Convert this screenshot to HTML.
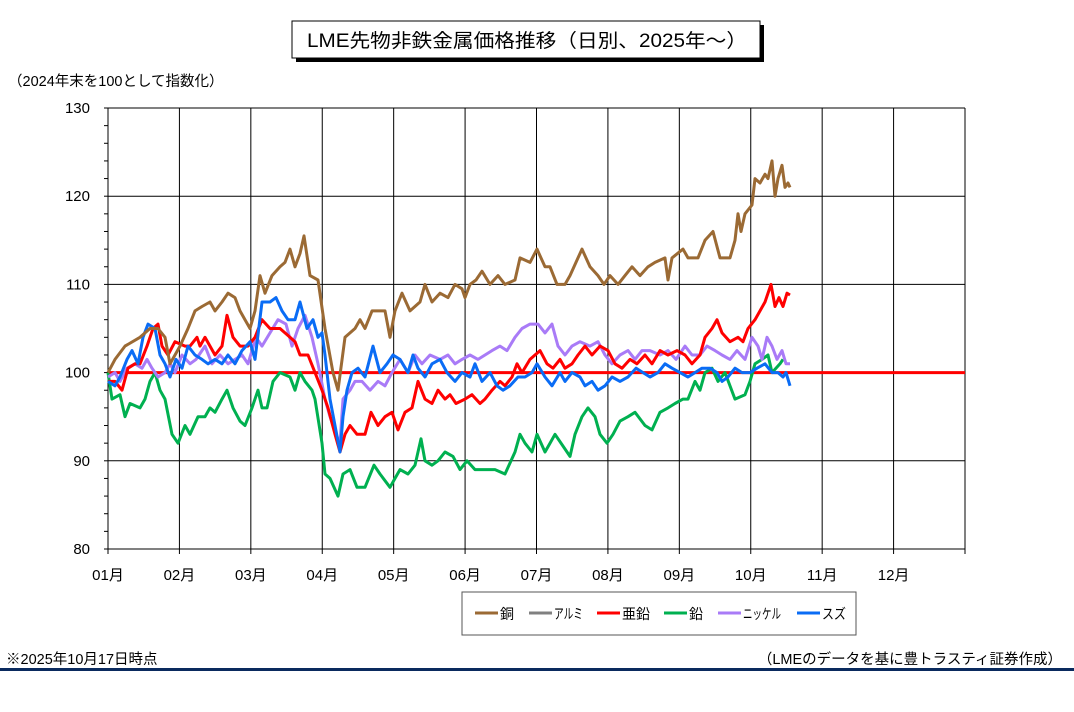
<!DOCTYPE html>
<html><head><meta charset="utf-8"><style>
body{margin:0;background:#fff;width:1074px;height:707px;overflow:hidden;font-family:"Liberation Sans","Noto Sans CJK JP",sans-serif;}
</style></head><body>
<svg id="s" width="1074" height="707" xmlns="http://www.w3.org/2000/svg" font-family="Liberation Sans, Noto Sans CJK JP, sans-serif">
<rect x="296" y="25" width="468" height="37" fill="#000"/>
<rect x="292" y="21" width="468" height="37" fill="#fff" stroke="#000" stroke-width="1"/>
<text x="307" y="47" font-size="19" fill="#000" textLength="440" lengthAdjust="spacingAndGlyphs">LME先物非鉄金属価格推移（日別、2025年～）</text>
<text x="8" y="86" font-size="14.5" fill="#000">（2024年末を100として指数化）</text>
<g id="grid" stroke="#000" stroke-width="1" fill="none"></g>
<g id="lbl" font-size="15" fill="#000"></g>
<line x1="108" y1="372.6" x2="965" y2="372.6" stroke="#ff0000" stroke-width="3"/>
<g id="series" fill="none" stroke-width="3" stroke-linejoin="round"></g>
<rect x="462" y="592" width="394" height="43" fill="#fff" stroke="#555" stroke-width="1"/>
<g font-size="14" fill="#000">
<line x1="475" y1="613" x2="498" y2="613" stroke="#9b6a34" stroke-width="3"/><text x="500" y="619" textLength="14" lengthAdjust="spacingAndGlyphs">銅</text>
<line x1="529" y1="613" x2="552" y2="613" stroke="#808080" stroke-width="3"/><text x="554" y="619" textLength="29" lengthAdjust="spacingAndGlyphs">アルミ</text>
<line x1="597" y1="613" x2="620" y2="613" stroke="#ff0000" stroke-width="3"/><text x="622" y="619" textLength="28" lengthAdjust="spacingAndGlyphs">亜鉛</text>
<line x1="664" y1="613" x2="687" y2="613" stroke="#00b050" stroke-width="3"/><text x="689" y="619" textLength="14" lengthAdjust="spacingAndGlyphs">鉛</text>
<line x1="718" y1="613" x2="741" y2="613" stroke="#a97bf7" stroke-width="3"/><text x="743" y="619" textLength="38" lengthAdjust="spacingAndGlyphs">ニッケル</text>
<line x1="797" y1="613" x2="820" y2="613" stroke="#0a6cf5" stroke-width="3"/><text x="822" y="619" textLength="24" lengthAdjust="spacingAndGlyphs">スズ</text>
</g>
<text x="6" y="664" font-size="14.5" fill="#000">※2025年10月17日時点</text>
<text x="1062" y="664" font-size="14.5" fill="#000" text-anchor="end">（LMEのデータを基に豊トラスティ証券作成）</text>
<rect x="0" y="668" width="1074" height="3" fill="#0a2a5e"/>
</svg>
<script>
var NS="http://www.w3.org/2000/svg";
function Y(v){return 372.6-(v-100)*8.82;}
function el(p,t,a,txt){var e=document.createElementNS(NS,t);for(var k in a)e.setAttribute(k,a[k]);if(txt!=null)e.textContent=txt;document.getElementById(p).appendChild(e);}
var x0=108,x1=965,dx=(x1-x0)/12;
for(var v=80;v<=130;v+=10){el('grid','line',{x1:x0,y1:Y(v),x2:x1,y2:Y(v),stroke:'#000'});el('lbl','text',{x:90,y:Y(v)+5,'text-anchor':'end'},String(v));}
for(var v=80;v<=130;v+=2){el('grid','line',{x1:x0-4,y1:Y(v),x2:x0,y2:Y(v)});}
for(var i=0;i<=12;i++){var x=x0+i*dx;el('grid','line',{x1:x,y1:Y(130),x2:x,y2:Y(80)});el('grid','line',{x1:x,y1:Y(80),x2:x,y2:Y(80)+5});
if(i<12)el('lbl','text',{x:x,y:580,'text-anchor':'middle'},(i<9?'0':'')+(i+1)+'月');}
function S(c,d){var p=[];for(var i=0;i<d.length;i+=2)p.push(d[i]+','+Y(d[i+1]).toFixed(1));el('series','polyline',{points:p.join(' '),stroke:c});}
S('#00b050',[108,100,112,97,120,97.5,125,95,130,96.5,140,96,145,97,150,99,155,100,160,98,165,97,172,93,178,92,185,94,190,93,198,95,205,95,210,96,215,95.5,222,97,227,98,233,96,240,94.5,245,94,252,96,258,98,262,96,267,96,273,99,280,100,290,99.5,295,98,300,100,305,99,312,98,315,97,322,92,325,88.5,330,88,338,86,343,88.5,350,89,357,87,365,87,374,89.5,380,88.5,390,87,395,88,400,89,408,88.5,415,89.5,421,92.5,425,90,432,89.5,438,90,445,91,453,90.5,460,89,467,90,475,89,485,89,495,89,505,88.5,515,91,520,93,525,92,532,91,537,93,545,91,550,92,555,93,570,90.5,575,93,582,95,588,96,595,95,600,93,607,92,613,93,620,94.5,628,95,635,95.5,645,94,652,93.5,660,95.5,668,96,675,96.5,683,97,688,97,695,99,700,98,705,100,712,100.5,718,99,725,100,735,97,745,97.5,750,99,755,101,762,101.5,768,102,772,100,780,101,783,101.5]);
S('#a97bf7',[108,99.5,115,100,120,99,127,100.5,135,101,142,100.5,147,101.5,152,100.5,158,99.5,165,100,170,101,175,100,182,102,190,101,196,101.5,205,103,212,101,220,102,228,101,235,101.5,242,102,248,101,256,104,262,103,270,104.5,278,106,286,105.5,292,103,298,105,305,106.5,312,104,318,101,325,97,330,95,336,93,340,92,343,97,350,98,355,99,362,99,370,98,378,99,385,98.5,392,100,400,101.5,408,100,415,102,422,101,430,102,440,101.5,448,102,455,101,462,101.5,470,102,478,101.5,485,102,492,102.5,500,103,507,102.5,515,104,522,105,530,105.5,538,105.5,545,104.5,552,105.5,558,103,565,102,572,103,580,103.5,590,103,598,103.5,605,102,612,101,620,102,628,102.5,635,101.5,642,102.5,650,102.5,660,102,668,102.5,676,101.5,685,103,692,102,700,102,707,103,715,102.5,722,102,730,101.5,737,102.5,745,101.5,752,104,758,103,762,101.5,767,104,772,103,777,101.5,782,102.5,786,101,790,101]);
S('#ff0000',[108,99,115,99,122,98,128,100.5,135,101,140,101,147,103,153,105,158,105.5,162,103,168,102,175,103.5,185,103,190,103,197,104,200,103,205,104,210,103,215,102,222,103,227,106.5,233,104,240,103,248,103,255,104,262,106,270,105,280,105,290,104,295,103.5,300,102,308,102,315,100,322,98,328,96,335,93,340,91,345,93,350,94,357,93,365,93,371,95.5,378,94,385,95,392,95.5,398,93.5,405,95.5,412,96,418,99,425,97,432,96.5,438,98,445,97,450,97.5,456,96.5,465,97,472,97.5,480,96.5,485,97,492,98,500,99,505,98.5,512,99.5,517,101,522,100,530,101.5,540,102.5,547,101,553,100.5,560,101.5,565,100.5,572,101,578,102,585,103,592,102,600,103,608,102.5,615,101,622,100.5,630,101.5,637,101,645,102,652,101,660,102.5,668,102,677,102.5,685,102,692,101,700,102,705,104,712,105,717,106,722,104.5,730,103.5,738,104,743,103.5,748,105,755,106,760,107,765,108,771,110,775,107.5,779,108.5,783,107.5,787,109,790,108.8]);
S('#0a6cf5',[108,99,115,98.5,120,99.5,127,101.5,132,102.5,138,101,143,104,148,105.5,155,105,160,102,165,101,170,99.5,176,101.5,182,100.5,188,103,195,102,202,101.5,208,101,215,101.5,222,101,228,102,235,101,242,102.5,250,103.5,255,101.5,262,108,270,108,276,108.5,282,107,288,106,295,106,300,108,307,105,313,106,318,104,322,104.5,325,102,330,97,335,94,340,91,343,95,347,98,352,100,358,100.5,365,99.5,373,103,380,100,387,101,393,102,400,101.5,408,100,413,102,418,100.5,425,99.5,432,101,440,101.5,447,100,455,99,462,100,470,99.5,475,101,482,99,490,100,497,98.5,503,98,510,98.5,518,99.5,525,99.5,532,100,537,101,545,99.5,552,98.5,560,100,565,99,572,100,580,99.5,585,98.5,592,99,598,98,605,98.5,612,99.5,620,99,628,99.5,636,100.5,643,100,650,99.5,658,100,665,101,672,100.5,680,100,688,99.5,695,100,702,100.5,710,100.5,717,100,722,99,728,99.5,735,100.5,742,100,750,100,757,100.5,765,101,772,100,778,100,783,99.5,786,100,790,98.5]);
S('#9b6a34',[108,100,115,101.5,125,103,140,104,150,105,158,105,165,104,170,101,175,102,180,103,188,105,195,107,202,107.5,210,108,215,107,222,108,228,109,235,108.5,240,107,245,106,250,105,255,107,260,111,265,109,272,111,280,112,285,112.5,290,114,295,112,300,113.5,304,115.5,310,111,318,110.5,325,105,333,100,338,98,345,104,355,105,360,106,365,105,372,107,385,107,390,104,395,107,402,109,410,107,420,108,425,110,432,108,440,109,448,108.5,455,110,462,109.5,465,108.5,470,110,476,110.5,482,111.5,490,110,498,111,505,110,515,110.5,520,113,530,112.5,537,114,545,112,550,112,557,110,565,110,570,111,578,113,582,114,590,112,598,111,604,110,610,111,618,110,625,111,632,112,640,111,648,112,655,112.5,665,113,668,110.5,672,113,683,114,688,113,698,113,705,115,713,116,720,113,730,113,735,115,738,118,741,116,745,118,752,119,755,122,760,121.5,765,122.5,768,122,772,124,775,120,778,122,782,123.5,785,121,788,121.5,790,121]);
</script>
</body></html>
